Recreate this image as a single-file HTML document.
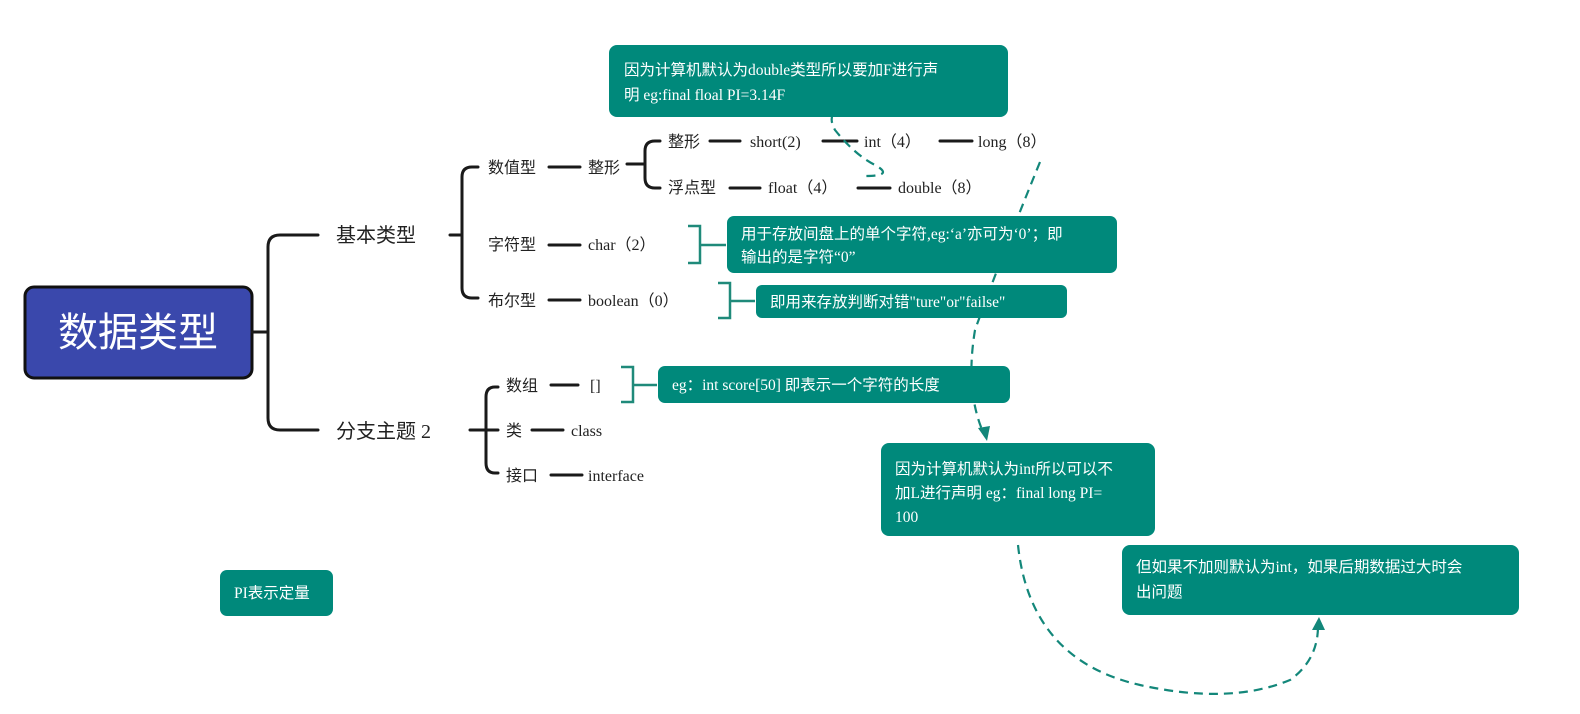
<!DOCTYPE html>
<html><head><meta charset="utf-8"><style>
html,body{margin:0;padding:0;background:#fff;}
svg{display:block;}
text{font-family:"Liberation Serif","Noto Sans CJK SC",serif;}
.t{font-size:16px;fill:#222;}
.w{font-size:15.5px;fill:#fff;}
.k{stroke:#1a1a1a;stroke-width:3;fill:none;stroke-linecap:round;}
.g{stroke:#1f8a7a;stroke-width:2.5;fill:none;}
.d{stroke:#13877a;stroke-width:2.2;fill:none;stroke-dasharray:9 6;}
</style></head><body>
<svg width="1580" height="714" viewBox="0 0 1580 714" xmlns="http://www.w3.org/2000/svg">
<!-- root -->
<rect x="25" y="287" width="227" height="91" rx="9" fill="#3a48ac" stroke="#111" stroke-width="3"/>
<text x="138" y="346" text-anchor="middle" style="font-size:40px;fill:#fff;font-family:'Liberation Sans','Noto Sans CJK SC',sans-serif">数据类型</text>
<path class="k" d="M252 332 H268 M318 235 H280 Q268 235 268 247 V418 Q268 430 280 430 H318"/>
<text x="336" y="242" style="font-size:20px;fill:#222">基本类型</text>
<text x="336" y="438" style="font-size:20px;fill:#222">分支主题 2</text>
<!-- 基本类型 bracket -->
<path class="k" d="M450 235 H462 M478 167 H472 Q462 167 462 177 V288 Q462 298 472 298 H478"/>
<text class="t" x="488" y="173">数值型</text>
<path class="k" d="M549 167 H580"/>
<text class="t" x="588" y="173">整形</text>
<path class="k" d="M627 164 H645 M660 141 H655 Q645 141 645 151 V178 Q645 188 655 188 H660"/>
<text class="t" x="668" y="147">整形</text>
<path class="k" d="M710 141 H740"/>
<text class="t" x="750" y="147">short(2)</text>
<path class="k" d="M823 141 H857"/>
<text class="t" x="864" y="147">int（4）</text>
<path class="k" d="M940 141 H972"/>
<text class="t" x="978" y="147">long（8）</text>
<text class="t" x="668" y="193">浮点型</text>
<path class="k" d="M730 188 H760"/>
<text class="t" x="768" y="193">float（4）</text>
<path class="k" d="M858 188 H890"/>
<text class="t" x="898" y="193">double（8）</text>
<text class="t" x="488" y="250">字符型</text>
<path class="k" d="M549 245 H580"/>
<text class="t" x="588" y="250">char（2）</text>
<text class="t" x="488" y="306">布尔型</text>
<path class="k" d="M549 300 H580"/>
<text class="t" x="588" y="306">boolean（0）</text>
<!-- 分支主题2 bracket -->
<path class="k" d="M470 430 H498 M498 387 H495 Q486 387 486 397 V463 Q486 473 495 473 H498"/>
<text class="t" x="506" y="391">数组</text>
<path class="k" d="M551 385 H578"/>
<text class="t" x="590" y="391">[]</text>
<text class="t" x="506" y="436">类</text>
<path class="k" d="M532 430 H563"/>
<text class="t" x="571" y="436">class</text>
<text class="t" x="506" y="481">接口</text>
<path class="k" d="M551 475 H582"/>
<text class="t" x="588" y="481">interface</text>
<!-- teal brackets -->
<path class="g" d="M688 226 H700 V263 H688 M700 245 H726"/>
<path class="g" d="M718 283 H730 V318 H718 M730 301 H755"/>
<path class="g" d="M621 367 H633 V402 H621 M633 385 H657"/>
<!-- dashed connectors -->
<path class="d" d="M1040 162 Q1000 260 975 330 Q965 390 983 432"/>
<path d="M978 428 L987 441 L990 426 Z" fill="#13877a"/>
<path class="d" d="M845 106 Q825 112 835 130 Q855 155 875 165 Q895 176 865 176"/>
<path class="d" d="M1018 545 Q1030 660 1140 685 Q1230 705 1290 680 Q1318 660 1318 626"/>
<path d="M1312 630 L1319 617 L1325 630 Z" fill="#13877a"/>
<!-- teal boxes -->
<rect x="609" y="45" width="399" height="72" rx="8" fill="#00897b"/>
<path d="M832 117 L846 106 L852 117 Z" fill="#00897b"/>
<text class="w" x="624" y="75">因为计算机默认为double类型所以要加F进行声</text>
<text class="w" x="624" y="100">明 eg:final floal PI=3.14F</text>
<rect x="727" y="216" width="390" height="57" rx="7" fill="#00897b"/>
<text class="w" x="741" y="239">用于存放间盘上的单个字符,eg:‘a’亦可为‘0’；即</text>
<text class="w" x="741" y="262">输出的是字符“0”</text>
<rect x="756" y="285" width="311" height="33" rx="6" fill="#00897b"/>
<text class="w" x="770" y="307">即用来存放判断对错"ture"or"failse"</text>
<rect x="658" y="366" width="352" height="37" rx="7" fill="#00897b"/>
<text class="w" x="672" y="390">eg：int score[50]  即表示一个字符的长度</text>
<rect x="881" y="443" width="274" height="93" rx="8" fill="#00897b"/>
<text class="w" x="895" y="474">因为计算机默认为int所以可以不</text>
<text class="w" x="895" y="498">加L进行声明 eg：final long PI=</text>
<text class="w" x="895" y="522">100</text>
<rect x="1122" y="545" width="397" height="70" rx="8" fill="#00897b"/>
<text class="w" x="1136" y="572">但如果不加则默认为int，如果后期数据过大时会</text>
<text class="w" x="1136" y="597">出问题</text>
<rect x="220" y="570" width="113" height="46" rx="7" fill="#00897b"/>
<text class="w" x="234" y="598">PI表示定量</text>
</svg>
</body></html>
